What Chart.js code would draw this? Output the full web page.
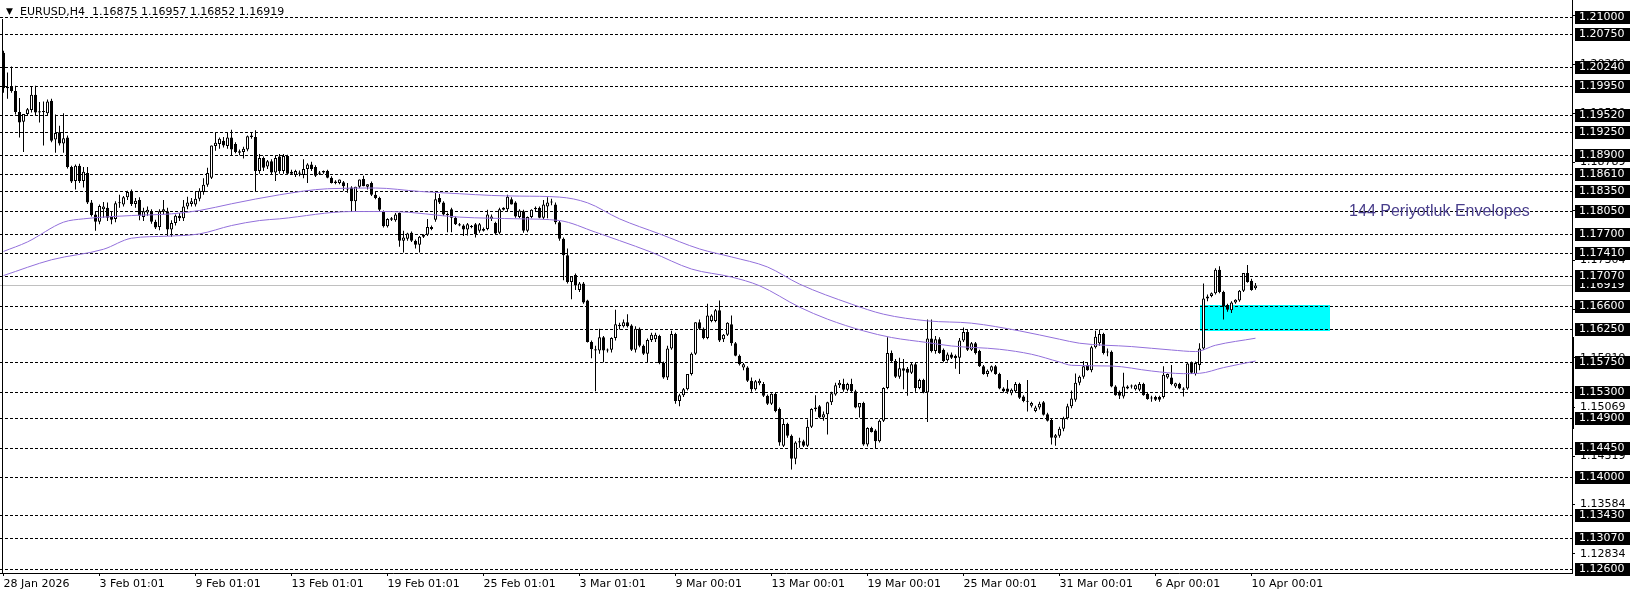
<!DOCTYPE html>
<html>
<head>
<meta charset="utf-8">
<script src="https://cdn.jsdelivr.net/npm/chart.js@4.4.1/dist/chart.umd.min.js"></script>
<style>
  html, body { margin: 0; padding: 0; background: #fff; }
  #wrap { width: 1636px; height: 597px; }
</style>
</head>
<body>
<div id="wrap"><canvas id="chart" width="1636" height="597"></canvas></div>
<script>
// ---- data ----
const symbolTitle = 'EURUSD,H4';
const timeLabels = ['28 Jan 2026', '3 Feb 01:01', '9 Feb 01:01', '13 Feb 01:01', '19 Feb 01:01',
  '25 Feb 01:01', '3 Mar 01:01', '9 Mar 00:01', '13 Mar 00:01', '19 Mar 00:01', '25 Mar 00:01',
  '31 Mar 00:01', '6 Apr 00:01', '10 Apr 00:01'];
const labelStep = 24; // one time label every 24 bars

const opens = [
  1.2046,1.1992,1.1994,1.1988,1.1956,1.1941,1.1953,1.1959,1.1982,1.1955,
  1.1957,1.1954,1.1973,1.1914,1.1925,1.1908,1.1917,1.1872,1.1851,1.1874,
  1.1851,1.1863,1.1818,1.1800,1.1789,1.1808,1.1810,1.1797,1.1793,1.1817,
  1.1815,1.1826,1.1835,1.1816,1.1822,1.1796,1.1803,1.1804,1.1789,1.1781,
  1.1804,1.1805,1.1777,1.1787,1.1798,1.1794,1.1812,1.1816,1.1815,1.1824,
  1.1834,1.1845,1.1856,1.1904,1.1907,1.1912,1.1904,1.1917,1.1907,1.1896,
  1.1895,1.1899,1.1918,1.1918,1.1866,1.1886,1.1873,1.1881,1.1864,1.1888,
  1.1866,1.1889,1.1862,1.1860,1.1864,1.1860,1.1869,1.1876,1.1872,1.1862,
  1.1864,1.1866,1.1856,1.1850,1.1848,1.1849,1.1839,1.1841,1.1820,1.1842,
  1.1854,1.1842,1.1848,1.1830,1.1825,1.1805,1.1782,1.1792,1.1791,1.1802,
  1.1760,1.1763,1.1772,1.1760,1.1754,1.1766,1.1769,1.1778,1.1792,1.1825,
  1.1818,1.1800,1.1808,1.1795,1.1785,1.1783,1.1777,1.1782,1.1785,1.1775,
  1.1778,1.1778,1.1793,1.1787,1.1772,1.1807,1.1808,1.1823,1.1818,1.1796,
  1.1805,1.1775,1.1796,1.1808,1.1810,1.1795,1.1812,1.1818,1.1815,1.1788,
  1.1763,1.1738,1.1697,1.1708,1.1685,1.1695,1.1669,1.1606,1.1595,1.1593,
  1.1613,1.1593,1.1594,1.1612,1.1630,1.1630,1.1636,1.1631,1.1594,1.1626,
  1.1600,1.1588,1.1609,1.1610,1.1615,1.1574,1.1552,1.1596,1.1618,1.1516,
  1.1525,1.1534,1.1557,1.1588,1.1636,1.1626,1.1612,1.1638,1.1638,1.1654,
  1.1610,1.1617,1.1633,1.1604,1.1585,1.1567,1.1567,1.1547,1.1534,1.1543,
  1.1542,1.1524,1.1512,1.1527,1.1504,1.1448,1.1481,1.1463,1.1428,1.1453,
  1.1455,1.1448,1.1477,1.1504,1.1508,1.1491,1.1496,1.1514,1.1526,1.1540,
  1.1542,1.1533,1.1542,1.1531,1.1506,1.1513,1.1450,1.1475,1.1471,1.1455,
  1.1486,1.1536,1.1589,1.1577,1.1553,1.1566,1.1565,1.1559,1.1572,1.1536,
  1.1548,1.1529,1.1611,1.1592,1.1610,1.1594,1.1578,1.1587,1.1585,1.1582,
  1.1608,1.1621,1.1594,1.1604,1.1592,1.1569,1.1557,1.1562,1.1569,1.1557,
  1.1535,1.1535,1.1528,1.1531,1.1542,1.1523,1.1515,1.1509,1.1501,1.1506,
  1.1514,1.1496,1.1487,1.1460,1.1463,1.1474,1.1490,1.1508,1.1518,1.1544,
  1.1553,1.1571,1.1563,1.1598,1.1604,1.1618,1.1591,1.1591,1.1538,1.1530,
  1.1523,1.1538,1.1538,1.1534,1.1533,1.1542,1.1527,1.1520,1.1522,1.1522,
  1.1522,1.1552,1.1552,1.1538,1.1542,1.1535,1.1535,1.1574,1.1557,1.1571,
  1.1596,1.1672,1.1676,1.1680,1.1716,1.1682,1.1662,1.1654,1.1666,1.1669,
  1.1684,1.1711,1.1699,1.16875
];
const highs = [
  1.2049,1.2016,1.2025,1.1996,1.1977,1.1953,1.1962,1.1994,1.1996,1.1971,
  1.1972,1.1975,1.1976,1.1952,1.1935,1.1954,1.1920,1.1874,1.1876,1.1877,
  1.1872,1.1872,1.1822,1.1805,1.1815,1.1819,1.1818,1.1805,1.1820,1.1830,
  1.1828,1.1836,1.1838,1.1825,1.1826,1.1810,1.1812,1.1808,1.1792,1.1808,
  1.1822,1.1810,1.1791,1.1800,1.1802,1.1822,1.1827,1.1825,1.1834,1.1840,
  1.1855,1.1871,1.1905,1.1925,1.1917,1.1918,1.1925,1.1929,1.1910,1.1899,
  1.1903,1.1920,1.1925,1.1928,1.1892,1.1888,1.1883,1.1884,1.1890,1.1892,
  1.1892,1.1891,1.1868,1.1868,1.1867,1.1884,1.1878,1.1880,1.1875,1.1866,
  1.1867,1.1868,1.1858,1.1852,1.1853,1.1851,1.1848,1.1843,1.1842,1.1853,
  1.1859,1.1846,1.1850,1.1835,1.1827,1.1806,1.1794,1.1796,1.1802,1.1803,
  1.1775,1.1772,1.1774,1.1762,1.1767,1.1770,1.1793,1.1783,1.1833,1.1831,
  1.1820,1.1803,1.1810,1.1797,1.1787,1.1785,1.1787,1.1784,1.1787,1.1787,
  1.1780,1.1807,1.1800,1.1789,1.1810,1.1811,1.1830,1.1826,1.1820,1.1808,
  1.1807,1.1797,1.1808,1.1812,1.1812,1.1822,1.1826,1.1824,1.1818,1.1790,
  1.1765,1.1748,1.1706,1.1710,1.1697,1.1697,1.1670,1.1608,1.1600,1.1626,
  1.1615,1.1596,1.1613,1.1655,1.1635,1.1640,1.1648,1.1633,1.1630,1.1628,
  1.1602,1.1611,1.1620,1.1620,1.1617,1.1576,1.1600,1.1623,1.1620,1.1527,
  1.1536,1.1557,1.1590,1.1636,1.1640,1.1628,1.1664,1.1648,1.1656,1.1669,
  1.1618,1.1636,1.1646,1.1606,1.1587,1.1574,1.1569,1.1552,1.1548,1.1550,
  1.1545,1.1526,1.1528,1.1529,1.1506,1.1489,1.1483,1.1465,1.1455,1.1460,
  1.1457,1.1488,1.1505,1.1525,1.1510,1.1500,1.1515,1.1530,1.1544,1.1548,
  1.1550,1.1544,1.1550,1.1533,1.1513,1.1515,1.1476,1.1477,1.1473,1.1488,
  1.1537,1.1613,1.1593,1.1580,1.1582,1.1580,1.1568,1.1575,1.1574,1.1550,
  1.1550,1.1640,1.1640,1.1615,1.1613,1.1596,1.1590,1.1590,1.1587,1.1612,
  1.1628,1.1625,1.1606,1.1606,1.1594,1.1571,1.1564,1.1570,1.1571,1.1559,
  1.1537,1.1548,1.1535,1.1545,1.1544,1.1525,1.1548,1.1515,1.1509,1.1515,
  1.1516,1.1498,1.1489,1.1466,1.1477,1.1492,1.1512,1.1532,1.1558,1.1555,
  1.1577,1.1574,1.1600,1.1623,1.1625,1.1620,1.1596,1.1593,1.1540,1.1532,
  1.1559,1.1540,1.1541,1.1541,1.1545,1.1544,1.1529,1.1524,1.1524,1.1524,
  1.1569,1.1558,1.1571,1.1544,1.1544,1.1537,1.1575,1.1576,1.1576,1.1604,
  1.1695,1.1678,1.1681,1.1718,1.1721,1.1684,1.1664,1.1668,1.1671,1.1685,
  1.1711,1.1723,1.1702,1.16957
];
const lows = [
  1.1985,1.1976,1.1985,1.1952,1.1917,1.1895,1.1950,1.1955,1.1950,1.1940,
  1.1905,1.1950,1.1910,1.1894,1.1905,1.1894,1.1870,1.1848,1.1838,1.1848,
  1.1841,1.1816,1.1797,1.1775,1.1785,1.1795,1.1790,1.1785,1.1788,1.1810,
  1.1812,1.1822,1.1813,1.1810,1.1791,1.1790,1.1798,1.1786,1.1778,1.1776,
  1.1800,1.1767,1.1766,1.1783,1.1790,1.1790,1.1808,1.1812,1.1812,1.1820,
  1.1830,1.1842,1.1854,1.1897,1.1900,1.1902,1.1900,1.1889,1.1893,1.1890,
  1.1885,1.1896,1.1915,1.1834,1.1862,1.1866,1.1869,1.1860,1.1851,1.1862,
  1.1862,1.1860,1.1860,1.1857,1.1858,1.1855,1.1848,1.1866,1.1857,1.1860,
  1.1862,1.1855,1.1847,1.1846,1.1846,1.1836,1.1833,1.1805,1.1805,1.1840,
  1.1843,1.1838,1.1828,1.1823,1.1805,1.1780,1.1780,1.1790,1.1789,1.1751,
  1.1742,1.1760,1.1758,1.1748,1.1742,1.1764,1.1767,1.1776,1.1789,1.1816,
  1.1798,1.1773,1.1773,1.1784,1.1782,1.1767,1.1768,1.1779,1.1765,1.1772,
  1.1774,1.1776,1.1790,1.1770,1.1770,1.1806,1.1805,1.1815,1.1795,1.1794,
  1.1772,1.1773,1.1794,1.1805,1.1794,1.1793,1.1794,1.1814,1.1785,1.1760,
  1.1700,1.1695,1.1671,1.1685,1.1682,1.1664,1.1605,1.1581,1.1531,1.1588,
  1.1575,1.1590,1.1590,1.1608,1.1625,1.1628,1.1628,1.1592,1.1590,1.1598,
  1.1586,1.1575,1.1606,1.1606,1.1572,1.1550,1.1548,1.1594,1.1512,1.1508,
  1.1522,1.1532,1.1555,1.1586,1.1624,1.1610,1.1610,1.1636,1.1636,1.1606,
  1.1606,1.1615,1.1600,1.1584,1.1570,1.1563,1.1545,1.1530,1.1532,1.1540,
  1.1522,1.1510,1.1510,1.1499,1.1448,1.1446,1.1460,1.1412,1.1420,1.1445,
  1.1446,1.1446,1.1475,1.1500,1.1490,1.1486,1.1465,1.1510,1.1524,1.1536,
  1.1530,1.1531,1.1529,1.1505,1.1491,1.1448,1.1447,1.1468,1.1443,1.1453,
  1.1484,1.1534,1.1575,1.1551,1.1550,1.1534,1.1524,1.1557,1.1530,1.1534,
  1.1528,1.1484,1.1590,1.1588,1.1588,1.1575,1.1576,1.1580,1.1565,1.1557,
  1.1606,1.1592,1.1592,1.1587,1.1568,1.1556,1.1553,1.1560,1.1556,1.1534,
  1.1529,1.1527,1.1525,1.1529,1.1519,1.1514,1.1500,1.1506,1.1499,1.1503,
  1.1494,1.1485,1.1450,1.1448,1.1460,1.1470,1.1488,1.1505,1.1515,1.1540,
  1.1550,1.1562,1.1560,1.1596,1.1600,1.1587,1.1584,1.1537,1.1524,1.1519,
  1.1520,1.1534,1.1535,1.1532,1.1531,1.1524,1.1518,1.1515,1.1516,1.1515,
  1.1520,1.1550,1.1540,1.1536,1.1534,1.1523,1.1533,1.1557,1.1555,1.1563,
  1.1594,1.1668,1.1674,1.1678,1.1680,1.1640,1.1652,1.1650,1.1664,1.1667,
  1.1682,1.1696,1.1684,1.16852
];
const closes = [
  1.1992,1.1994,1.1988,1.1956,1.1940,1.1953,1.1960,1.1982,1.1955,1.1957,
  1.1956,1.1972,1.1912,1.1924,1.1908,1.1916,1.1872,1.1850,1.1874,1.1851,
  1.1865,1.1818,1.1799,1.1789,1.1813,1.1812,1.1795,1.1792,1.1817,1.1818,
  1.1826,1.1834,1.1816,1.1821,1.1798,1.1805,1.1807,1.1789,1.1780,1.1805,
  1.1808,1.1777,1.1787,1.1798,1.1794,1.1812,1.1818,1.1820,1.1824,1.1836,
  1.1845,1.1863,1.1905,1.1909,1.1915,1.1905,1.1917,1.1899,1.1895,1.1894,
  1.1900,1.1919,1.1920,1.1866,1.1886,1.1871,1.1881,1.1864,1.1886,1.1866,
  1.1889,1.1862,1.1865,1.1866,1.1862,1.1869,1.1876,1.1869,1.1859,1.1864,
  1.1866,1.1856,1.1848,1.1848,1.1853,1.1843,1.1838,1.1820,1.1842,1.1853,
  1.1843,1.1846,1.1830,1.1825,1.1807,1.1782,1.1793,1.1794,1.1800,1.1760,
  1.1765,1.1771,1.1760,1.1754,1.1766,1.1769,1.1781,1.1781,1.1823,1.1818,
  1.1800,1.1799,1.1795,1.1785,1.1783,1.1777,1.1785,1.1781,1.1770,1.1785,
  1.1775,1.1800,1.1797,1.1771,1.1808,1.1810,1.1827,1.1815,1.1797,1.1806,
  1.1775,1.1796,1.1807,1.1810,1.1795,1.1815,1.1818,1.1819,1.1788,1.1763,
  1.1738,1.1697,1.1706,1.1692,1.1695,1.1666,1.1606,1.1595,1.1593,1.1613,
  1.1593,1.1594,1.1612,1.1633,1.1632,1.1636,1.1630,1.1594,1.1626,1.1600,
  1.1588,1.1609,1.1617,1.1617,1.1574,1.1552,1.1596,1.1618,1.1516,1.1525,
  1.1534,1.1557,1.1588,1.1636,1.1626,1.1612,1.1646,1.1646,1.1654,1.1608,
  1.1617,1.1635,1.1604,1.1585,1.1572,1.1572,1.1547,1.1534,1.1546,1.1547,
  1.1524,1.1512,1.1527,1.1501,1.1453,1.1481,1.1463,1.1428,1.1453,1.1455,
  1.1448,1.1477,1.1504,1.1506,1.1491,1.1496,1.1514,1.1528,1.1540,1.1544,
  1.1533,1.1542,1.1531,1.1506,1.1513,1.1450,1.1475,1.1469,1.1455,1.1486,
  1.1536,1.1589,1.1577,1.1553,1.1566,1.1562,1.1559,1.1572,1.1536,1.1548,
  1.1529,1.1611,1.1592,1.1610,1.1589,1.1577,1.1587,1.1582,1.1581,1.1608,
  1.1621,1.1594,1.1604,1.1589,1.1569,1.1557,1.1562,1.1569,1.1557,1.1535,
  1.1531,1.1530,1.1533,1.1542,1.1521,1.1516,1.1516,1.1513,1.1506,1.1512,
  1.1495,1.1486,1.1460,1.1464,1.1474,1.1490,1.1508,1.1520,1.1544,1.1553,
  1.1569,1.1563,1.1598,1.1614,1.1618,1.1589,1.1590,1.1538,1.1525,1.1524,
  1.1538,1.1535,1.1539,1.1540,1.1542,1.1525,1.1519,1.1520,1.1518,1.1518,
  1.1556,1.1557,1.1542,1.1543,1.1535,1.1533,1.1573,1.1559,1.1574,1.1596,
  1.1672,1.1675,1.1680,1.1716,1.1682,1.1660,1.1655,1.1666,1.1670,1.1684,
  1.1711,1.1697,1.1685,1.16919
];

// 144-period envelope bands, read at a handful of bars
const envUpperBars = [0,6,15,20,32,42,49,57,69,81,93,104,114,122,129,139,146,154,164,174,
  182,191,199,212,220,231,242,254,264,269,282,292,298,303,313];
const envUpper = [1.17437,1.17582,1.17882,1.17933,1.17983,1.18009,1.18060,1.18162,1.18299,1.18391,
  1.18402,1.18350,1.18315,1.18289,1.18279,1.18264,1.18177,1.17933,1.17704,1.17475,
  1.17353,1.17200,1.16940,1.16635,1.16482,1.16380,1.16345,1.16228,1.16101,1.16040,
  1.15989,1.15937,1.15913,1.16009,1.16116];
const envLowerBars = [0,12,25,32,41,49,57,64,69,87,97,114,129,139,148,154,162,172,182,189,
  199,206,215,222,231,237,249,257,264,267,277,287,295,299,305,313];
const envLower = [1.17070,1.17310,1.17470,1.17638,1.17669,1.17704,1.17831,1.17907,1.17933,1.18044,
  1.18044,1.17959,1.17933,1.17907,1.17730,1.17602,1.17424,1.17169,1.17047,1.16915,
  1.16589,1.16406,1.16228,1.16127,1.16050,1.15998,1.15948,1.15872,1.15754,1.15704,
  1.15693,1.15617,1.15577,1.15582,1.15669,1.15769];

// horizontal levels, axis ticks, zone
const levelPrices = [1.21000,1.20750,1.20240,1.19950,1.19520,1.19250,1.18900,1.18610,1.18350,
  1.18050,1.17700,1.17410,1.17070,1.16600,1.16250,1.15750,1.15300,1.14900,1.14450,1.14000,
  1.13430,1.13070,1.12600];
const axisTicks = [1.21024,1.20289,1.19539,1.18789,1.18054,1.17304,1.16554,1.15819,1.15069,
  1.14319,1.13584,1.12834];
const zoneBars = [299, 331.6];
const zonePrices = [1.1662, 1.1623];
const envLabel = '144 Periyotluk Envelopes';
const envLabelAt = [336.4, 1.1805];
const axisMarker = [1.1614, 1.1474];

// ---- chart ----
const FONT = 'DejaVu Sans';
const last = closes.length - 1;
const bid = closes[last];
const idx = closes.map((_, i) => i);

const wickData = idx.map(i => ({ x: i, y: [lows[i], highs[i]] }));
const bodyData = idx.map(i => ({ x: i, y: [opens[i], closes[i]] }));
const bodyFill = idx.map(i => closes[i] >= opens[i] ? '#ffffff' : '#000000');

const px = (chart, i) => chart.scales.x.getPixelForValue(i);
const py = (chart, p) => chart.scales.y.getPixelForValue(p);

// things MT4 draws behind the bars
const backdrop = {
  id: 'backdrop',
  beforeDatasetsDraw(chart) {
    const { ctx, chartArea: a } = chart;
    ctx.save();
    const x0 = Math.round(px(chart, zoneBars[0])), x1 = Math.round(px(chart, zoneBars[1]));
    const y0 = Math.round(py(chart, zonePrices[0])), y1 = Math.round(py(chart, zonePrices[1]));
    ctx.fillStyle = '#00ffff';
    ctx.fillRect(x0, y0, x1 - x0, y1 - y0);

    ctx.strokeStyle = '#000';
    ctx.lineWidth = 1;
    ctx.setLineDash([3, 2]);
    levelPrices.forEach(p => {
      const y = Math.round(py(chart, p)) + 0.5;
      ctx.beginPath(); ctx.moveTo(a.left, y); ctx.lineTo(a.right, y); ctx.stroke();
    });
    ctx.setLineDash([]);

    const by = Math.round(py(chart, bid)) + 0.5;
    ctx.strokeStyle = '#c0c0c0';
    ctx.beginPath(); ctx.moveTo(a.left, by); ctx.lineTo(a.right, by); ctx.stroke();
    ctx.restore();
  }
};

// labels, price boxes and frame bits on top
const overlay = {
  id: 'overlay',
  afterDraw(chart) {
    const { ctx, chartArea: a } = chart;
    ctx.save();
    ctx.fillStyle = '#000';
    ctx.fillRect(2, 19, 1, a.bottom - 19);
    const m0 = Math.round(py(chart, axisMarker[0])), m1 = Math.round(py(chart, axisMarker[1]));
    ctx.fillRect(a.right, m0, 2, m1 - m0);

    // header
    ctx.textBaseline = 'middle';
    ctx.textAlign = 'left';
    ctx.font = '9px "' + FONT + '"';
    ctx.fillText('\u25BC', 6, 12);
    ctx.font = '11px "' + FONT + '"';
    const ohlc = [opens[last], highs[last], lows[last], closes[last]].map(v => v.toFixed(5)).join(' ');
    ctx.fillText(symbolTitle + '  ' + ohlc, 20, 12.5);

    // indicator label
    ctx.font = '16px "Liberation Sans"';
    ctx.fillStyle = '#483d8b';
    ctx.fillText(envLabel, px(chart, envLabelAt[0]), py(chart, envLabelAt[1]));

    // price boxes on the axis
    ctx.font = '11px "' + FONT + '"';
    const box = (p) => {
      const y = Math.round(py(chart, p));
      ctx.fillStyle = '#000';
      ctx.fillRect(a.right + 3, y - 6, 55, 13);
      ctx.fillStyle = '#fff';
      ctx.fillText(p.toFixed(5), a.right + 7, y + 0.5);
    };
    box(bid);
    levelPrices.forEach(box);
    ctx.restore();
  }
};

new Chart(document.getElementById('chart'), {
  type: 'bar',
  data: {
    datasets: [
      { type: 'line', data: envUpperBars.map((x, k) => ({ x, y: envUpper[k] })),
        borderColor: '#9370db', borderWidth: 1, pointRadius: 0, cubicInterpolationMode: 'monotone', order: 1 },
      { type: 'line', data: envLowerBars.map((x, k) => ({ x, y: envLower[k] })),
        borderColor: '#9370db', borderWidth: 1, pointRadius: 0, cubicInterpolationMode: 'monotone', order: 1 },
      { data: bodyData, backgroundColor: bodyFill, borderColor: '#000', borderWidth: 1,
        borderSkipped: false, barThickness: 3, minBarLength: 1, grouped: false, inflateAmount: 0, order: 2 },
      { data: wickData, backgroundColor: '#000', borderWidth: 0,
        barThickness: 1, grouped: false, inflateAmount: 0, order: 3 }
    ]
  },
  options: {
    responsive: false,
    animation: false,
    devicePixelRatio: 1,
    events: [],
    layout: { padding: 0, autoPadding: false },
    plugins: { legend: { display: false }, tooltip: { enabled: false } },
    scales: {
      x: {
        type: 'linear', min: -0.875, max: 392.125, offset: false,
        grid: { drawOnChartArea: false, drawTicks: true, tickLength: 3, color: '#000', offset: false },
        border: { display: true, color: '#000', width: 1 },
        ticks: {
          autoSkip: false, maxRotation: 0, align: 'start', padding: 2, color: '#000',
          font: { family: FONT, size: 11 },
          callback: v => timeLabels[Math.round(v / labelStep)]
        },
        afterBuildTicks: s => { s.ticks = timeLabels.map((_, k) => ({ value: k * labelStep })); },
        afterFit: s => { s.height = 24; s.paddingLeft = 0; s.paddingRight = 0; }
      },
      y: {
        type: 'linear', position: 'right', min: 1.125431, max: 1.212633,
        grid: { drawOnChartArea: false, drawTicks: true, tickLength: 3, color: '#000' },
        border: { display: true, color: '#000', width: 1 },
        ticks: {
          autoSkip: false, padding: 5, color: '#000',
          font: { family: FONT, size: 11 },
          callback: v => v.toFixed(5)
        },
        afterBuildTicks: s => { s.ticks = axisTicks.map(v => ({ value: v })); },
        afterFit: s => { s.width = 64; s.paddingTop = 0; s.paddingBottom = 0; }
      }
    }
  },
  plugins: [backdrop, overlay]
});
</script>
</body>
</html>
